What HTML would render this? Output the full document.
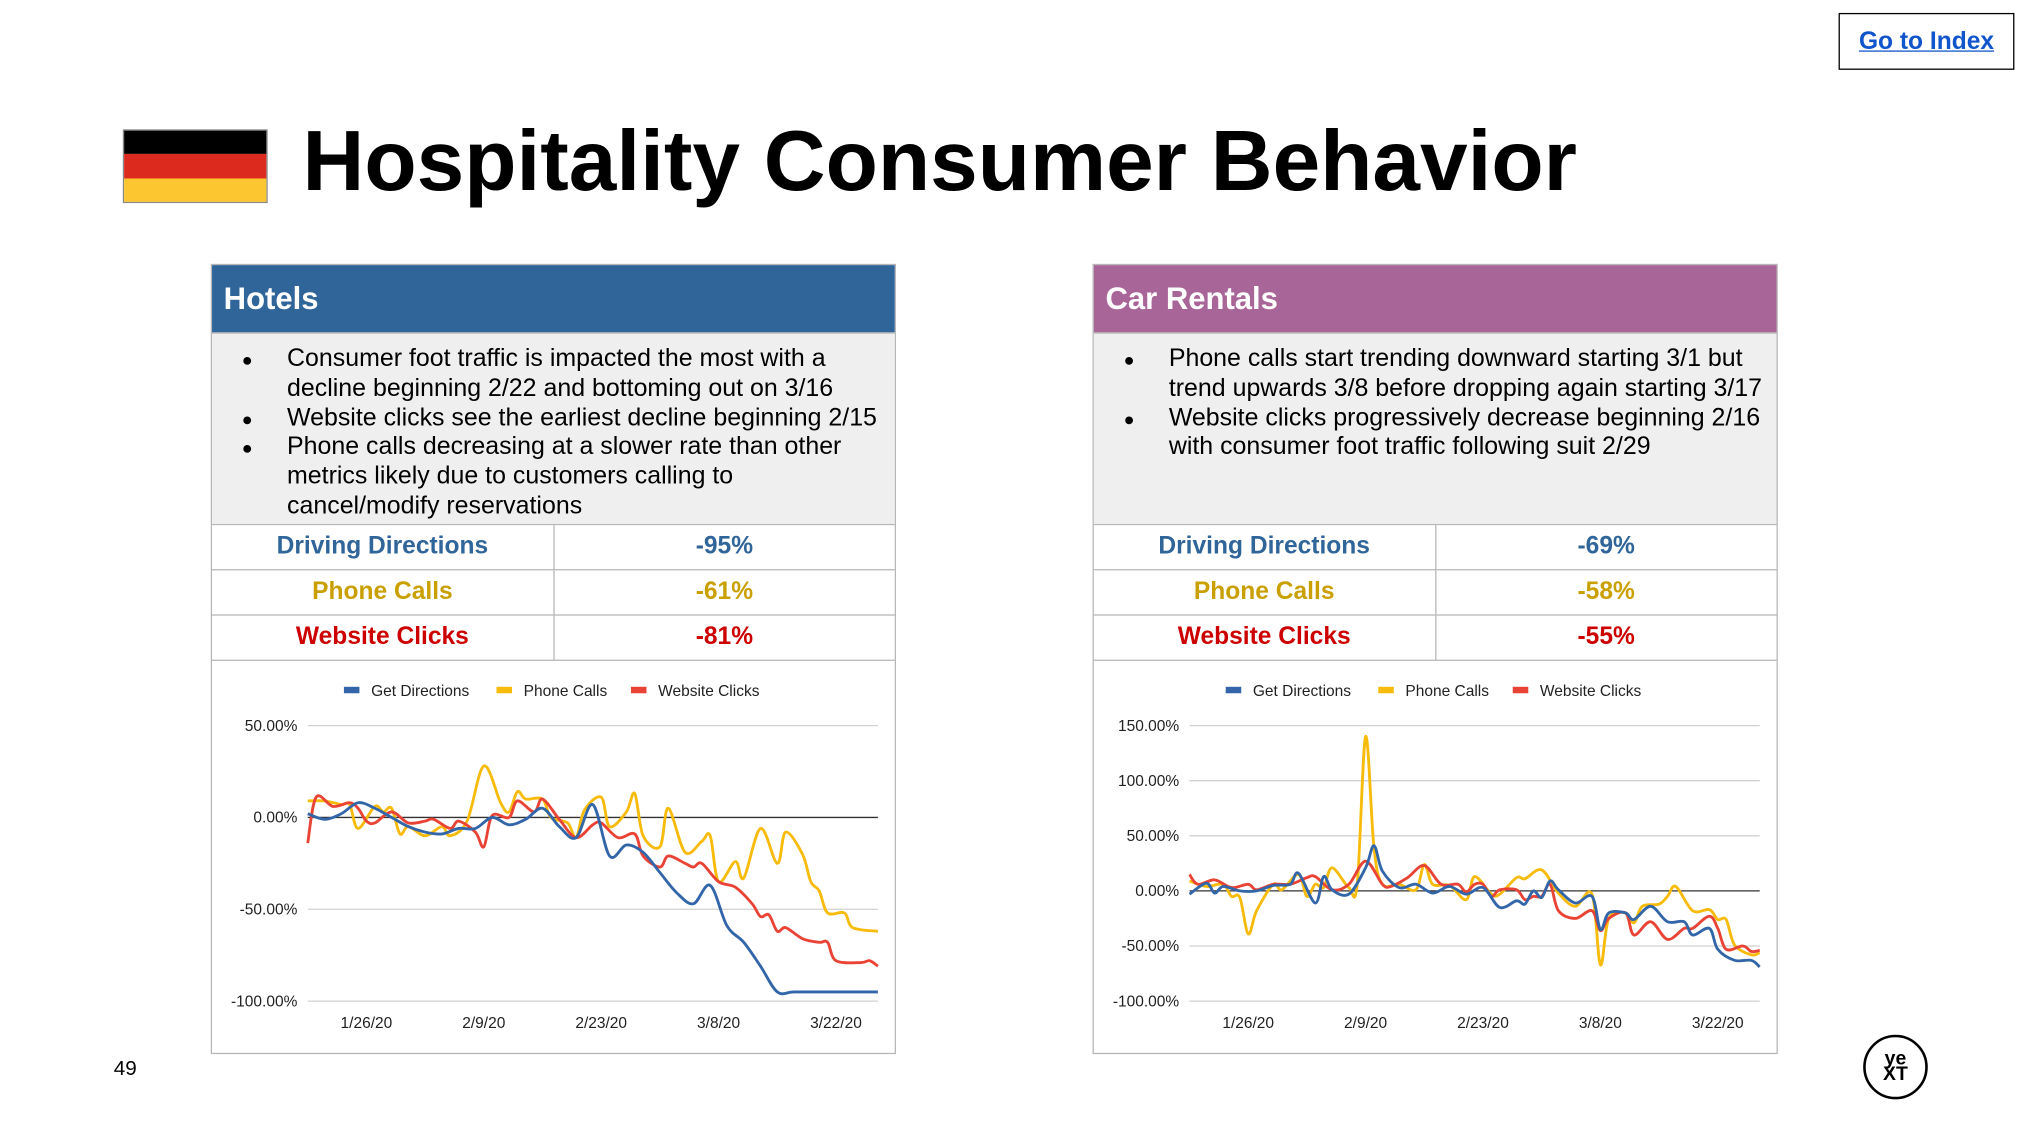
<!DOCTYPE html>
<html><head><meta charset="utf-8"><style>
html,body{margin:0;padding:0;background:#fff;overflow:hidden}
#stage{position:absolute;left:0;top:0;width:1560px;height:876px;transform-origin:0 0;transform:scale(1.29295,1.2934);font-family:"Liberation Sans",Arial,sans-serif}
.abs{position:absolute}
.panel{position:absolute;width:528px;top:204px;border:1px solid #b7b7b7;background:#fff}
.hdr{height:52px;color:#fff;font-weight:bold;font-size:24px;line-height:54px;padding-left:9px}
.body{height:147px;background:#efefef;border-top:1px solid #b7b7b7;font-size:19.3px;line-height:22.8px;color:#000;position:relative}
.body ul{margin:0;padding:9px 4px 0 58px}
.body li{list-style:none;position:relative}
.body li:before{content:"●";position:absolute;left:-35px;font-size:14px}
.row{height:34px;border-top:1px solid #b7b7b7;display:flex;font-weight:bold;font-size:19px;line-height:34px}
.row div{flex:1;text-align:center}
.row div:first-child{border-right:1px solid #b7b7b7}
.chart{height:303px;border-top:1px solid #b7b7b7}
svg text{font-family:"Liberation Sans",Arial,sans-serif}
</style></head><body>
<div id="stage">
<div class="abs" style="left:1422px;top:10px;width:134px;height:42px;border:1px solid #000;text-align:center;line-height:43px;font-weight:bold;font-size:19px;color:#1155cc;text-decoration:underline">Go to Index</div>
<div class="abs" style="left:95px;top:100px;width:110px;height:55px;border:1px solid #888">
<div style="height:18.3px;background:#000"></div><div style="height:18.3px;background:#dd2a1f"></div><div style="height:18.4px;background:#fcc630"></div></div>
<div class="abs" style="left:234px;top:87px;font-size:66.2px;font-weight:bold;color:#000;white-space:nowrap">Hospitality Consumer Behavior</div>

<div class="panel" style="left:163px">
<div class="hdr" style="background:#30659a">Hotels</div>
<div class="body"><ul>
<li>Consumer foot traffic is impacted the most with a decline beginning 2/22 and bottoming out on 3/16</li>
<li>Website clicks see the earliest decline beginning 2/15</li>
<li>Phone calls decreasing at a slower rate than other metrics likely due to customers calling to cancel/modify reservations</li></ul></div>
<div class="row" style="color:#30659a"><div>Driving Directions</div><div>-95%</div></div>
<div class="row" style="color:#c9a000"><div>Phone Calls</div><div>-61%</div></div>
<div class="row" style="color:#cc0000"><div>Website Clicks</div><div>-81%</div></div>
<div class="chart"><svg id="c1" width="528" height="303"></svg></div>
</div>

<div class="panel" style="left:845px">
<div class="hdr" style="background:#a86597">Car Rentals</div>
<div class="body"><ul>
<li>Phone calls start trending downward starting 3/1 but trend upwards 3/8 before dropping again starting 3/17</li>
<li>Website clicks progressively decrease beginning 2/16 with consumer foot traffic following suit 2/29</li></ul></div>
<div class="row" style="color:#30659a"><div>Driving Directions</div><div>-69%</div></div>
<div class="row" style="color:#c9a000"><div>Phone Calls</div><div>-58%</div></div>
<div class="row" style="color:#cc0000"><div>Website Clicks</div><div>-55%</div></div>
<div class="chart"><svg id="c2" width="528" height="303"></svg></div>
</div>

<div class="abs" style="left:88px;top:818px;font-size:16px">49</div>
<div class="abs" style="left:1441px;top:800px;width:46px;height:46px;border:2px solid #000;border-radius:50%;text-align:center;font-size:15px;line-height:12px;font-weight:bold"><div style="margin-top:11px">ye</div><div>XT</div></div>
</div>
<script>
const xTickLabels = ["1/26/20","2/9/20","2/23/20","3/8/20","3/22/20"];
const xTickDays = [7,21,35,49,63];
const seriesNames = ["Get Directions","Phone Calls","Website Clicks"];
const hotelYTicks = [50,0,-50,-100];
const carYTicks = [150,100,50,0,-50,-100];

const hotelDirDays = [0,2,4,6,8,10,12,14,16,18,20,22,24,26,28,30,32,34,36,38,40,42,44,46,48,50,52,54,56,58,62,68];
const hotelDirVals = [2,-1,2,8,5,0,-5,-8,-9,-6,-6,0,-4,-1,5,-5,-11,7,-21,-15,-19,-30,-41,-47,-37,-59,-68,-81,-95,-95,-95,-95];
const hotelPhoneDays = [0,2,4,5,6,8,9,10,11,12,14,16,17,19,21,23,24,25,26,28,29,31,32,33,35,36,38,39,40,42,43,45,47,48,49,51,52,54,56,57,59,60,61,62,64,65,68];
const hotelPhoneVals = [9,9,7,7,-6,6,3,5,-9,-5,-10,-5,-10,-2,28,8,3,14,10,10,0,-3,-11,4,11,-5,3,13,-10,-16,5,-19,-13,-10,-35,-24,-33,-6,-25,-8,-20,-35,-40,-52,-52,-60,-62];
const hotelWebDays = [0,1,3,5,6,7,8,10,12,14,15,17,18,20,21,22,24,25,27,28,30,32,34,35,37,39,40,42,43,45,46,47,49,51,53,54,55,56,57,59,61,62,63,66,67,68];
const hotelWebVals = [-14,11,6,8,5,-2,-3,3,-3,-2,-1,-6,-2,-8,-16,1,0,9,3,10,-1,-11,-4,-3,-11,-9,-21,-27,-21,-25,-27,-25,-35,-38,-47,-54,-53,-62,-60,-66,-68,-68,-78,-79,-78,-81];

const carDirDays = [0,2,3,4,6,8,10,12,13,15,16,17,19,21,22,23,25,27,29,31,33,35,37,39,40,41,42,43,44,46,48,49,50,52,53,55,57,59,60,62,63,65,67,68];
const carDirVals = [-3,7,-2,4,0,0,5,6,16,-11,13,1,-3,21,41,18,3,6,-2,4,-3,3,-15,-9,-12,0,-6,9,1,-11,-5,-35,-20,-20,-26,-14,-28,-28,-40,-34,-53,-63,-63,-69];
const carPhoneDays = [0,2,4,5,6,7,8,10,11,13,14,15,16,17,19,20,21,22,23,25,27,28,29,31,33,34,36,37,39,40,42,44,46,48,49,50,52,53,54,56,57,58,60,62,63,64,65,67,68];
const carPhoneVals = [9,4,6,-5,-6,-39,-18,6,1,15,-5,6,3,21,3,6,140,39,6,6,1,24,6,5,-8,13,-3,-3,12,11,19,-2,-14,-3,-67,-25,-20,-29,-14,-12,-5,4,-18,-17,-26,-26,-49,-58,-56];
const carWebDays = [0,1,3,5,7,8,10,12,14,15,17,19,21,23,24,26,28,30,32,33,34,35,36,37,39,40,41,42,43,44,46,48,49,50,52,53,55,57,59,60,62,63,64,66,67,68];
const carWebVals = [15,6,10,3,6,1,6,6,12,13,1,6,27,6,4,12,23,6,6,-1,6,6,-5,1,1,-8,-5,-5,6,-18,-25,-18,-36,-25,-20,-40,-28,-44,-34,-34,-23,-34,-53,-50,-55,-54];

const colors = ["#3266a8","#f7bb0c","#e94335"];
const NS = "http://www.w3.org/2000/svg";
function mk(svg,tag,attrs){const e=document.createElementNS(NS,tag);for(const k in attrs)e.setAttribute(k,attrs[k]);svg.appendChild(e);return e;}
function smooth(pts){let d="M"+pts[0][0]+","+pts[0][1];for(let i=0;i<pts.length-1;i++){const p0=pts[Math.max(0,i-1)],p1=pts[i],p2=pts[i+1],p3=pts[Math.min(pts.length-1,i+2)];const t=6;d+=" C"+(p1[0]+(p2[0]-p0[0])/t)+","+(p1[1]+(p2[1]-p0[1])/t)+" "+(p2[0]-(p3[0]-p1[0])/t)+","+(p2[1]-(p3[1]-p1[1])/t)+" "+p2[0]+","+p2[1];}return d;}
function chart(id,yTicks,series){
  const svg=document.getElementById(id);
  const x0=74,x1=515,yTop=50,yBot=263,yMax=yTicks[0],yMin=yTicks[yTicks.length-1];
  const X=d=>x0+(x1-x0)*d/68, Y=v=>yTop+(yBot-yTop)*(yMax-v)/(yMax-yMin);
  const lx=[102,220,324];
  seriesNames.forEach((n,i)=>{
    const r=mk(svg,"rect",{x:lx[i],y:20,width:12,height:5,fill:colors[i]});
    
    
    const t=mk(svg,"text",{x:lx[i]+21,y:27,"font-size":12,fill:"#222"});t.textContent=n;
    
    
  });
  yTicks.forEach(v=>{
    const l=mk(svg,"line",{x1:x0,x2:x1,y1:Y(v),y2:Y(v),stroke:v===0?"#333":"#d0d0d0","stroke-width":1});
    
    
    const t=mk(svg,"text",{x:66,y:Y(v)+4,"font-size":12,"text-anchor":"end",fill:"#222"});t.textContent=v.toFixed(2)+"%";
    
    
  });
  xTickLabels.forEach((s,i)=>{
    const t=mk(svg,"text",{x:X(xTickDays[i]),y:284,"font-size":12,"text-anchor":"middle",fill:"#222"});t.textContent=s;
    
    
  });
  [1,2,0].forEach(i=>{
    const [days,vals]=series[i];
    const p=mk(svg,"path",{d:smooth(days.map((d,k)=>[X(d),Y(vals[k])])),fill:"none",stroke:colors[i],"stroke-width":2.2,"stroke-linejoin":"round"});
    
    
  });
}
chart("c1",hotelYTicks,[[hotelDirDays,hotelDirVals],[hotelPhoneDays,hotelPhoneVals],[hotelWebDays,hotelWebVals]]);
chart("c2",carYTicks,[[carDirDays,carDirVals],[carPhoneDays,carPhoneVals],[carWebDays,carWebVals]]);
</script>
</body></html>
